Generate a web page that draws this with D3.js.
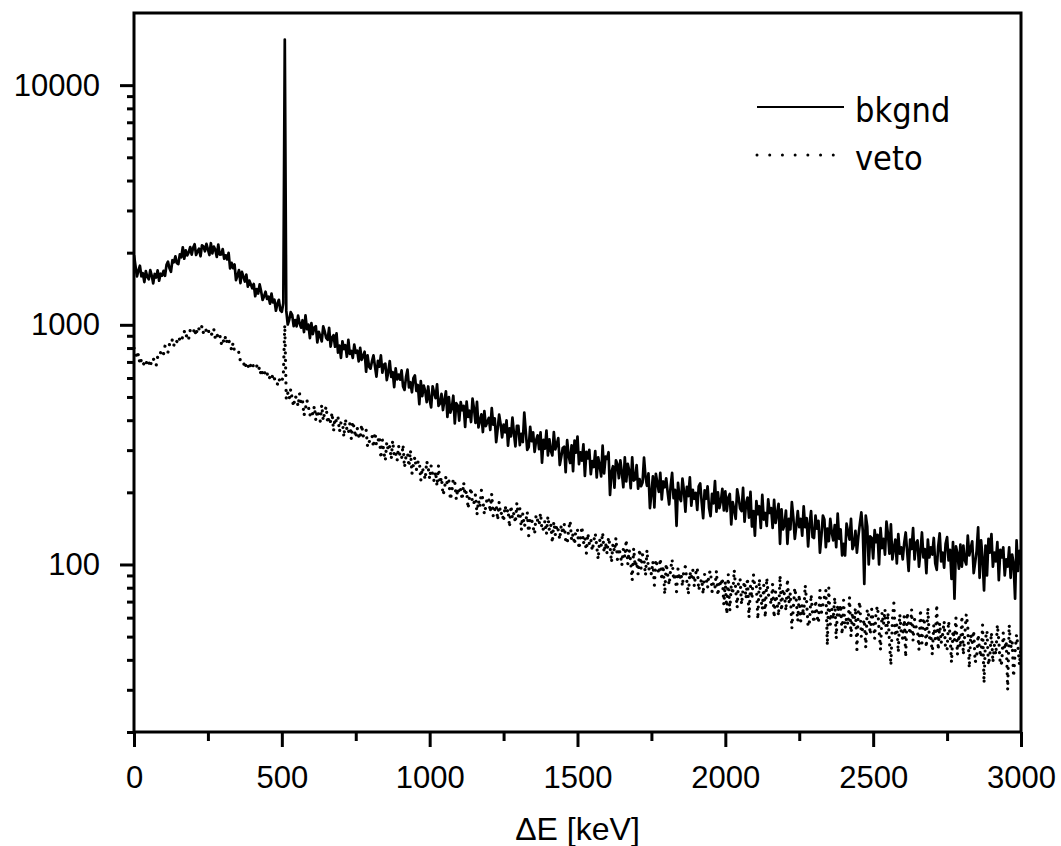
<!DOCTYPE html>
<html><head><meta charset="utf-8">
<script src="https://cdn.jsdelivr.net/npm/d3@7"></script>
<style>body{margin:0;background:#fff}svg{display:block}</style>
</head><body><svg id="chart" width="1061" height="846"></svg>
<script>
// ---- data (counts per 5 keV bin, bin i at E = i*5 keV) ----
const binKeV = 5;
const bkgnd = [
1950,1760,1592,1684,1765,1594,1641,1508,1676,1585,
1549,1690,1606,1489,1630,1574,1687,1528,1634,1603,
1679,1602,1779,1834,1723,1665,1860,1824,1932,1808,
1793,1967,1913,2107,1887,2047,1947,2005,2111,1963,
2098,2168,1956,2023,2079,1932,2147,2123,2027,2176,
2066,1955,2190,1986,2120,2059,1919,2162,1963,1968,
2071,1886,1950,1874,1998,1719,1814,1723,1787,1535,
1604,1691,1492,1664,1588,1516,1620,1443,1530,1476,
1420,1480,1316,1410,1350,1474,1379,1270,1316,1374,
1282,1312,1225,1350,1240,1272,1145,1225,1272,1150,
1133,1230,15500,1146,1003,1049,1129,1101,987,1047,
985,1092,1015,973,1045,933,1096,959,1002,880,
1016,915,974,987,844,935,897,852,986,938,
882,866,972,811,884,906,810,922,766,819,
728,854,792,822,736,866,756,778,728,826,
764,780,704,801,714,741,772,637,745,669,
656,706,746,671,608,707,669,746,631,681,
689,588,636,706,606,635,550,658,592,620,
590,645,553,535,605,650,548,576,523,599,
615,530,561,467,582,504,558,529,476,553,
487,452,554,522,494,564,459,469,515,441,
485,528,413,499,430,450,506,388,471,461,
398,476,440,459,375,478,413,438,393,492,
447,390,477,373,399,423,357,436,378,393,
409,364,449,383,407,324,368,422,385,339,
383,356,399,313,370,342,410,352,311,379,
379,315,351,324,430,359,301,309,375,327,
356,295,330,346,303,356,266,331,304,362,
285,333,297,285,357,302,318,337,260,281,
306,310,243,330,284,265,314,245,329,293,
342,262,294,271,317,234,295,277,301,238,
270,255,297,231,280,258,233,313,240,282,
276,294,195,243,257,209,272,262,229,272,
241,210,280,222,263,246,208,280,224,227,
260,207,227,212,220,279,232,213,240,172,
198,233,173,239,219,201,241,187,222,210,
229,200,178,212,241,189,205,145,219,190,
184,228,203,166,211,193,231,176,205,188,
199,169,212,218,182,156,204,188,212,172,
159,197,180,223,166,200,172,184,207,168,
202,167,190,197,147,182,170,155,206,190,
171,167,209,151,180,190,157,201,144,167,
132,184,162,175,142,195,154,164,145,187,
164,172,142,186,149,163,179,122,170,140,
146,168,122,155,140,182,157,128,145,167,
143,155,132,175,143,156,119,148,167,130,
129,160,141,152,112,132,160,154,118,141,
125,155,136,126,146,118,163,128,140,109,
122,109,148,137,127,155,116,121,138,112,
131,148,165,138,83,160,144,100,131,129,
106,139,124,133,100,142,117,128,110,151,
134,111,147,105,117,127,101,134,111,118,
105,123,136,113,94,127,116,142,105,123,
126,98,113,136,107,116,92,127,107,118,
110,129,101,95,119,135,103,112,97,122,
130,104,115,87,124,72,119,111,96,121,
98,120,104,100,132,109,117,125,92,102,
114,143,88,126,106,78,120,90,128,112,
134,98,112,103,124,86,115,107,118,90,
105,98,118,88,110,101,72,126,94,114,100
];
const veto = [
800,771,723,755,684,716,682,692,715,674,
695,667,715,727,694,676,734,728,765,737,
757,817,799,769,829,821,873,823,865,852,
891,866,848,898,941,887,915,875,949,924,
922,969,900,982,960,940,990,922,963,945,
971,908,926,905,956,875,913,887,912,834,
876,840,900,834,862,834,784,840,774,762,
766,767,703,704,703,658,697,682,651,680,
699,657,671,675,643,668,610,642,620,648,
629,592,606,589,623,598,564,565,598,572,
583,610,1000,490,519,490,538,491,456,504,
493,457,516,466,481,418,448,484,454,419,
438,423,458,399,440,419,396,463,398,433,
456,388,413,393,430,360,409,393,412,358,
391,393,340,405,367,352,387,334,395,367,
338,371,344,334,384,343,354,365,309,323,
337,345,308,356,314,327,343,277,331,294,
271,324,298,311,275,329,283,292,271,313,
280,275,316,254,283,292,256,300,239,261,
281,248,267,271,224,254,241,226,270,254,
227,258,236,223,244,212,259,218,231,195,
205,233,214,223,186,202,228,221,187,208,
197,206,186,220,194,203,171,194,209,178,
181,196,161,185,173,204,185,162,175,191,
187,165,197,159,169,177,153,182,161,166,
151,176,164,170,143,176,155,164,149,181,
159,171,139,163,144,150,166,132,157,154,
143,134,161,153,146,164,138,141,152,134,
159,138,146,123,151,133,146,139,127,146,
134,148,126,122,139,152,126,134,121,141,
139,116,128,144,122,130,111,135,122,128,
114,125,135,119,105,127,119,136,112,123,
111,130,119,102,122,113,129,105,117,110,
99,116,107,127,100,115,102,86,117,98,
103,91,116,96,110,104,90,115,95,97,
91,103,82,105,98,91,106,86,99,75,
101,91,82,95,105,86,92,77,96,86,
92,81,96,98,85,75,93,87,95,81,
92,97,78,83,87,75,91,89,80,92,
94,77,84,80,94,74,86,81,88,68,
85,62,91,64,82,75,95,79,66,87,
87,68,79,85,72,88,60,81,72,91,
80,81,59,87,73,65,82,60,88,75,
73,68,83,60,77,69,61,90,64,79,
75,64,87,69,76,54,66,80,71,58,
75,58,68,61,82,70,55,58,75,62,
57,71,61,57,78,63,68,73,78,46,
80,56,65,59,73,49,68,61,68,51,
71,54,60,56,73,50,63,56,66,44,
65,70,50,55,59,45,65,61,51,65,
58,49,64,67,53,44,63,56,65,50,
63,48,38,59,69,50,56,43,62,52,
49,61,41,63,56,51,65,48,59,55,
53,44,65,47,60,56,45,66,49,51,
42,56,49,68,44,57,47,51,58,44,
44,58,51,39,53,48,60,42,51,45,
61,42,51,62,55,37,51,47,53,39,
41,51,44,41,56,32,49,53,38,42,
52,39,46,42,56,48,38,39,52,44,
48,30,56,45,48,34,43,51,45,38,46
];
const seriesNames = ["bkgnd", "veto"];
const xTicks = [0, 500, 1000, 1500, 2000, 2500, 3000];
const xMinorTicks = [250, 750, 1250, 1750, 2250, 2750];
const yTicks = [100, 1000, 10000];
const yMinorTicks = [20,30,40,50,60,70,80,90,200,300,400,500,600,700,800,900,2000,3000,4000,5000,6000,7000,8000,9000];
const xTitle = "\u0394E [keV]";

// ---- layout ----
const m = {l: 134, r: 1021, t: 13, b: 732};
const x = d3.scaleLinear().domain([0, 3000]).range([m.l, m.r]);
const y = d3.scaleLog().domain([20, 20000]).range([m.b, m.t]);
const svg = d3.select("#chart");
const axisFont = "'Liberation Sans', Arial, Helvetica, sans-serif";
const lw = 3;

svg.append("defs").append("clipPath").attr("id", "plot-clip")
  .append("rect").attr("x", m.l).attr("y", m.t).attr("width", m.r - m.l).attr("height", m.b - m.t);

const line = d3.line().x((d, i) => x(i * binKeV)).y(d => y(d));

svg.append("path").datum(veto)
  .attr("d", line).attr("fill", "none").attr("stroke", "#000")
  .attr("stroke-width", 3.2).attr("stroke-linecap", "round")
  .attr("stroke-dasharray", "0.01 7.5").attr("clip-path", "url(#plot-clip)");

svg.append("path").datum(bkgnd)
  .attr("d", line).attr("fill", "none").attr("stroke", "#000")
  .attr("stroke-width", 2.7).attr("stroke-linejoin", "round")
  .attr("clip-path", "url(#plot-clip)");

// axes
function styleAxis(g) {
  g.select(".domain").remove();
  g.selectAll(".tick line").attr("stroke", "#000").attr("stroke-width", lw);
  g.selectAll(".tick text").attr("fill", "#000").style("font-family", axisFont).style("font-size", "31px");
}
svg.append("g").attr("transform", `translate(0,${m.b})`)
  .call(d3.axisBottom(x).tickValues(xMinorTicks).tickSize(9).tickFormat(""))
  .call(styleAxis);
svg.append("g").attr("transform", `translate(0,${m.b})`)
  .call(d3.axisBottom(x).tickValues(xTicks).tickSize(15).tickPadding(19).tickFormat(d3.format("d")))
  .call(styleAxis);
svg.append("g").attr("transform", `translate(${m.l},0)`)
  .call(d3.axisLeft(y).tickValues(yMinorTicks).tickSize(7).tickFormat(""))
  .call(styleAxis);
svg.append("g").attr("transform", `translate(${m.l},0)`)
  .call(d3.axisLeft(y).tickValues(yTicks).tickSize(14).tickPadding(20).tickFormat(d3.format("d")))
  .call(styleAxis);

// frame
svg.append("rect").attr("x", m.l).attr("y", m.t).attr("width", m.r - m.l).attr("height", m.b - m.t)
  .attr("fill", "none").attr("stroke", "#000").attr("stroke-width", lw);

// axis title
svg.append("text").attr("x", (m.l + m.r) / 2).attr("y", 840).attr("text-anchor", "middle")
  .style("font-family", axisFont).style("font-size", "32px").text(xTitle);

// legend
const legFont = "'DejaVu Sans Condensed', 'DejaVu Sans', sans-serif";
const leg = svg.append("g");
const legRows = [{name: seriesNames[0], y: 107, dash: null}, {name: seriesNames[1], y: 155, dash: "0.01 12.7"}];
legRows.forEach(r => {
  const l = leg.append("line").attr("x1", 757).attr("x2", 844).attr("y1", r.y).attr("y2", r.y)
    .attr("stroke", "#000");
  if (r.dash) l.attr("stroke-width", 3).attr("stroke-linecap", "round").attr("stroke-dasharray", r.dash);
  else l.attr("stroke-width", 2);
  leg.append("text").attr("x", 855).attr("y", r.y + 15)
    .style("font-family", legFont).style("font-stretch", "condensed").style("font-size", "34px").text(r.name);
});
</script></body></html>
